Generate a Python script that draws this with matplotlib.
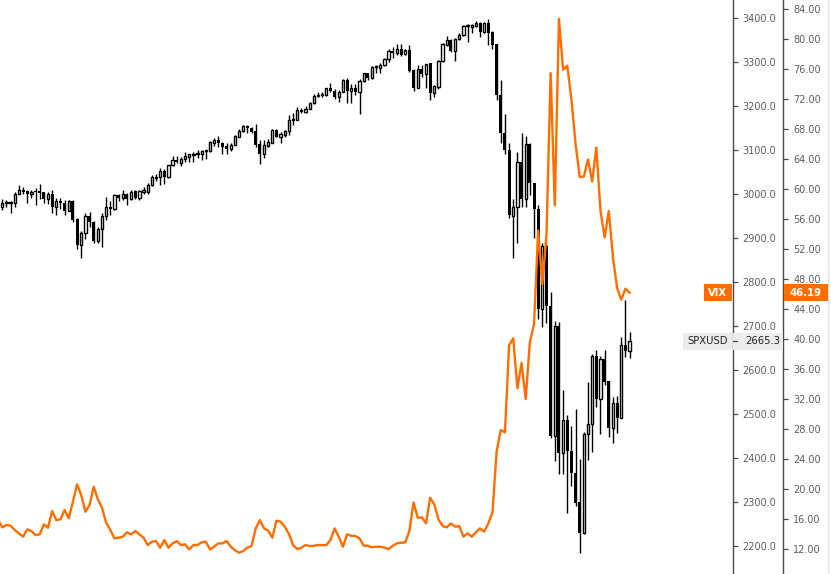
import matplotlib.pyplot as plt
import numpy as np
from matplotlib.patches import Rectangle
from matplotlib.lines import Line2D

# SPXUSD daily candles (open, high, low, close)
opens = [2970, 2979, 2980, 2979, 3001, 3009, 3006, 3001, 3007, 3006,
         3004, 2988, 2999, 2970, 2984, 2979, 2962, 2984, 2943, 2883,
         2911, 2950, 2936, 2894, 2920, 2950, 2970, 2965, 2998, 2992,
         3000, 2988, 3007, 2990, 3004, 3004, 3020, 3036, 3038, 3053,
         3038, 3066, 3077, 3071, 3079, 3085, 3089, 3090, 3090, 3097,
         3097, 3117, 3122, 3117, 3108, 3103, 3112, 3130, 3144, 3154,
         3149, 3143, 3113, 3091, 3110, 3117, 3145, 3130, 3134, 3143,
         3169, 3169, 3192, 3187, 3194, 3206, 3222, 3225, 3225, 3240,
         3235, 3221, 3232, 3260, 3235, 3242, 3232, 3257, 3274, 3263,
         3288, 3287, 3293, 3306, 3325, 3320, 3329, 3318, 3327, 3282,
         3242, 3284, 3272, 3297, 3229, 3244, 3302, 3339, 3350, 3326,
         3352, 3361, 3381, 3380, 3382, 3389, 3369, 3389, 3369, 3340,
         3226, 3138, 3099, 2949, 2971, 3072, 2989, 3113, 3024, 2965,
         2738, 2882, 2745, 2451, 2700, 2412, 2486, 2416, 2367, 2300,
         2229, 2454, 2478, 2632, 2535, 2624, 2575, 2469, 2526, 2490,
         2657, 2644]
highs = [2988, 2986, 2985, 3005, 3020, 3017, 3008, 3009, 3013, 3023,
         3005, 3005, 3009, 2990, 2990, 2986, 2986, 2986, 2945, 2916,
         2956, 2960, 2939, 2926, 2956, 2994, 2983, 3000, 3001, 3009,
         3003, 3009, 3009, 3008, 3015, 3026, 3043, 3045, 3058, 3056,
         3067, 3087, 3087, 3083, 3096, 3092, 3096, 3100, 3100, 3101,
         3120, 3128, 3131, 3119, 3115, 3115, 3134, 3147, 3157, 3157,
         3153, 3159, 3122, 3122, 3125, 3147, 3148, 3141, 3145, 3179,
         3183, 3198, 3196, 3200, 3210, 3227, 3231, 3231, 3241, 3253,
         3238, 3236, 3261, 3263, 3250, 3250, 3261, 3276, 3276, 3292,
         3293, 3297, 3310, 3330, 3335, 3340, 3340, 3330, 3339, 3283,
         3293, 3293, 3295, 3298, 3248, 3305, 3344, 3359, 3352, 3354,
         3365, 3384, 3386, 3386, 3394, 3392, 3392, 3398, 3370, 3340,
         3259, 3182, 3117, 2988, 3095, 3138, 3132, 3115, 3024, 2975,
         2888, 2890, 2778, 2711, 2710, 2554, 2497, 2473, 2511, 2398,
         2460, 2573, 2636, 2645, 2632, 2645, 2575, 2538, 2541, 2676,
         2759, 2687]
lows = [2964, 2970, 2956, 2970, 2999, 3000, 2979, 2990, 2976, 2988,
        2979, 2977, 2956, 2952, 2967, 2952, 2961, 2936, 2874, 2854,
        2897, 2926, 2888, 2888, 2880, 2941, 2952, 2964, 2983, 2986,
        2975, 2986, 2988, 2986, 2999, 3001, 3019, 3030, 3020, 3022,
        3036, 3064, 3070, 3064, 3073, 3072, 3073, 3081, 3077, 3079,
        3096, 3110, 3106, 3090, 3090, 3098, 3111, 3129, 3142, 3139,
        3139, 3107, 3068, 3081, 3107, 3115, 3129, 3115, 3129, 3134,
        3157, 3168, 3183, 3185, 3193, 3204, 3221, 3220, 3223, 3231,
        3216, 3210, 3231, 3206, 3207, 3226, 3181, 3255, 3260, 3261,
        3274, 3276, 3290, 3300, 3310, 3315, 3314, 3316, 3278, 3233,
        3240, 3267, 3240, 3214, 3221, 3238, 3299, 3336, 3323, 3302,
        3350, 3359, 3346, 3365, 3380, 3356, 3367, 3339, 3329, 3214,
        3115, 3091, 2945, 2854, 2889, 2971, 2971, 2998, 2899, 2717,
        2698, 2706, 2445, 2394, 2363, 2363, 2274, 2336, 2291, 2183,
        2228, 2395, 2414, 2516, 2454, 2566, 2447, 2435, 2457, 2490,
        2630, 2628]
closes = [2979, 2980, 2981, 3001, 3009, 3005, 3001, 3005, 3004, 3003,
          2988, 2999, 2970, 2985, 2979, 2962, 2984, 2941, 2883, 2911,
          2950, 2936, 2894, 2920, 2950, 2970, 2965, 2998, 2992, 3000,
          2988, 3005, 2990, 3007, 3008, 3020, 3038, 3038, 3053, 3038,
          3066, 3077, 3072, 3080, 3087, 3091, 3091, 3091, 3098, 3099,
          3119, 3122, 3117, 3107, 3103, 3112, 3131, 3144, 3154, 3149,
          3142, 3111, 3091, 3111, 3119, 3145, 3130, 3136, 3143, 3168,
          3170, 3192, 3187, 3194, 3207, 3222, 3224, 3226, 3240, 3235,
          3221, 3232, 3260, 3235, 3242, 3232, 3257, 3274, 3263, 3289,
          3289, 3293, 3306, 3325, 3320, 3329, 3316, 3327, 3280, 3242,
          3284, 3272, 3295, 3229, 3246, 3302, 3340, 3350, 3326, 3352,
          3361, 3382, 3382, 3383, 3389, 3369, 3389, 3367, 3339, 3226,
          3138, 3099, 2952, 2971, 3072, 2989, 3113, 3024, 2965, 2738,
          2882, 2745, 2451, 2700, 2412, 2486, 2416, 2367, 2298, 2229,
          2454, 2478, 2632, 2535, 2624, 2573, 2469, 2526, 2490, 2657,
          2644, 2665.3]

# VIX closes, first value is one day before the first candle
vix = [15.86, 14.89, 15.2, 15.11, 14.53, 14.09, 13.64, 14.62, 14.4, 13.86,
       13.95, 15.29, 14.84, 17.06, 15.86, 15.95, 17.2, 16.09, 18.31, 20.62,
       19.2, 16.97, 17.86, 20.31, 18.62, 17.51, 15.51, 14.53, 13.42, 13.51,
       13.64, 14.22, 13.95, 14.4, 13.95, 13.51, 12.53, 12.97, 13.06, 12.17,
       13.2, 12.17, 12.75, 13.06, 12.53, 12.62, 11.95, 12.53, 12.53, 12.89,
       12.97, 11.95, 12.31, 12.75, 12.75, 13.06, 12.31, 11.86, 11.51, 11.73,
       12.2, 12.4, 14.75, 15.86, 14.75, 14.44, 13.51, 15.77, 15.64, 14.98,
       14.0, 12.53, 12.0, 12.17, 12.53, 12.4, 12.44, 12.53, 12.53, 12.53,
       13.2, 14.75, 13.64, 12.31, 13.95, 13.77, 13.73, 13.42, 12.44, 12.44,
       12.22, 12.31, 12.31, 12.17, 12.0, 12.44, 12.75, 12.84, 12.89, 14.4,
       18.22, 16.17, 16.22, 15.42, 18.84, 17.95, 15.95, 15.06, 14.89, 15.42,
       14.98, 15.06, 13.64, 14.09, 13.64, 14.22, 14.75, 14.31, 15.42, 16.88,
       25.03, 27.85, 27.56, 39.16, 40.11, 33.42, 36.82, 31.99, 39.62, 41.94,
       54.46, 47.30, 53.90, 75.47, 57.83, 82.69, 75.91, 76.45, 72.00, 66.04,
       61.59, 61.67, 63.95, 61.00, 65.54, 57.08, 53.54, 57.06, 50.91, 46.80,
       45.24, 46.70, 46.19]

spx_ticks = list(range(2200, 3401, 100))
vix_ticks = list(range(12, 85, 4))

W, H = 831, 574
axis_col = '#4a4a4a'
text_col = '#5d5d5d'
orange = '#ff6d00'

fig = plt.figure(figsize=(W / 100, H / 100), dpi=100)
ax = fig.add_axes([0, 0, 733 / W, 1])
ax2 = ax.twinx()

o = np.array(opens, float)
h = np.array(highs, float)
l = np.array(lows, float)
c = np.array(closes, float)
x = np.arange(len(o))

# wicks first, bodies on top so hollow candles hide the wick
ax.vlines(x, l, h, color='black', linewidth=1.0, zorder=2)
up = c >= o
bottom = np.minimum(o, c)
height = np.maximum(np.abs(c - o), 2.5)
ax.bar(x[up], height[up], bottom=bottom[up], width=0.56, facecolor='white',
       edgecolor='black', linewidth=1.0, zorder=3)
ax.bar(x[~up], height[~up], bottom=bottom[~up], width=0.72, facecolor='black',
       edgecolor='none', linewidth=0, zorder=3)

vix_x = np.arange(-1, len(vix) - 1)
ax2.plot(vix_x, vix, color=orange, linewidth=1.7, solid_joinstyle='round')

ax.set_xlim(-0.554, 175.9)
ax.set_ylim(2136.4, 3440.9)
ax2.set_ylim(8.67, 85.2)

for a in (ax, ax2):
    for s in ('top', 'left', 'bottom'):
        a.spines[s].set_visible(False)
    a.spines['right'].set_color(axis_col)
    a.spines['right'].set_linewidth(1.0)
    a.set_xticks([])
ax2.spines['right'].set_position(('axes', 783 / 733))

ax.yaxis.tick_right()
ax.set_yticks(spx_ticks)
ax.set_yticklabels(['%.1f' % v for v in spx_ticks])
ax2.set_yticks(vix_ticks)
ax2.set_yticklabels(['%.2f' % v for v in vix_ticks])
for a, p in ((ax, 3.2), (ax2, 3.8)):
    a.tick_params(axis='y', direction='out', length=3.5, width=0.9, color=axis_col,
                  labelcolor=text_col, labelsize=7, pad=p)

fig.add_artist(Line2D([828 / W, 828 / W], [0, 1], color='#e0e3eb', linewidth=1,
                      transform=fig.transFigure))


def box(x0, x1, yc, fc, txt, tc, weight='normal', tick=False):
    hb = 17
    fig.add_artist(Rectangle((x0 / W, (yc - hb / 2) / H), (x1 - x0) / W, hb / H,
                             facecolor=fc, edgecolor='none', transform=fig.transFigure,
                             zorder=5))
    tx = (x0 + x1) / 2 / W
    if tick:
        fig.add_artist(Line2D([733 / W, 737 / W], [yc / H, yc / H], color=axis_col,
                              linewidth=0.9, transform=fig.transFigure, zorder=6))
        tx = (x0 + 10 + x1) / 2 / W
    fig.text(tx, yc / H, txt, color=tc, fontsize=7.2, fontweight=weight,
             ha='center', va='center', zorder=7)


y_vix = ax2.transData.transform((0, vix[-1]))[1]
y_spx = ax.transData.transform((0, closes[-1]))[1]
box(704, 732, y_vix, orange, 'VIX', 'white', 'bold')
box(783.5, 828, y_vix, orange, '%.2f' % vix[-1], 'white', 'bold')
box(683, 732, y_spx, '#ececec', 'SPXUSD', '#222222')
box(733, 783, y_spx, '#ececec', '%.1f' % closes[-1], '#222222', tick=True)

fig.savefig('out.png', dpi=100)
